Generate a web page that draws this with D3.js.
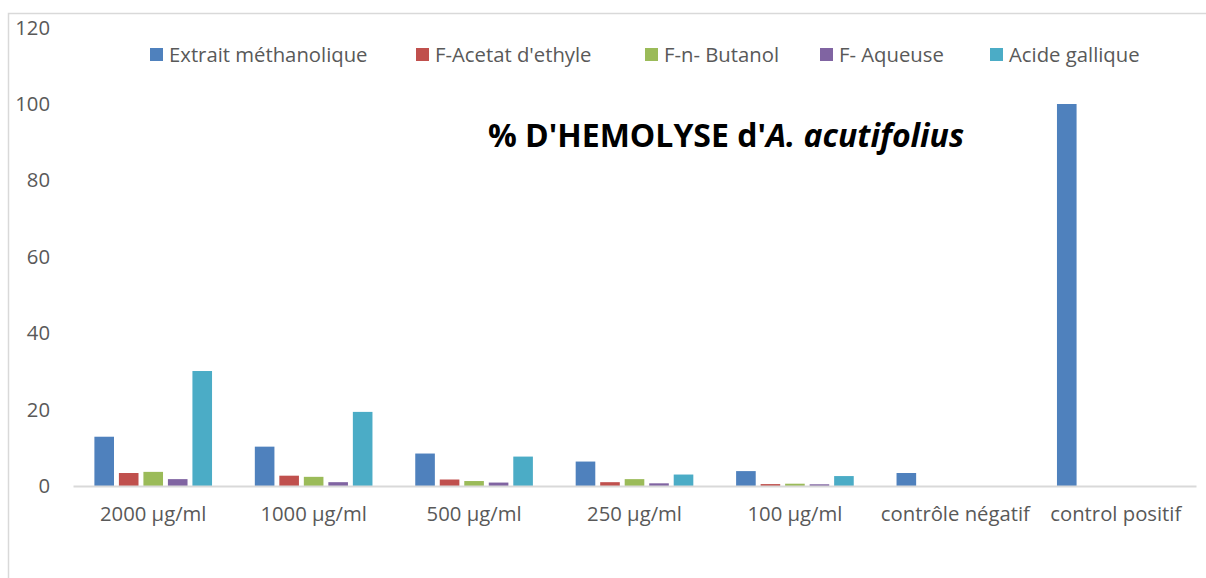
<!DOCTYPE html>
<html>
<head>
<meta charset="utf-8">
<script src="https://cdn.jsdelivr.net/npm/d3@7"></script>
<style>
  body { margin: 0; background: #fff; }
  svg { display: block; font-family: "Open Sans", Lato, sans-serif; }
</style>
</head>
<body>
<script>
// données
const categories = ["2000 μg/ml", "1000 μg/ml", "500 μg/ml", "250 μg/ml", "100 μg/ml", "contrôle négatif", "control positif"];
const seriesNames = ["Extrait méthanolique", "F-Acetat d'ethyle", "F-n- Butanol", "F- Aqueuse", "Acide gallique"];
const extraitMethanolique = [12.9, 10.3, 8.5, 6.4, 3.9, 3.4, 100];
const acetatEthyle = [3.4, 2.7, 1.7, 1.0, 0.5, null, null];
const nButanol = [3.7, 2.4, 1.3, 1.8, 0.6, null, null];
const aqueuse = [1.8, 1.0, 0.9, 0.7, 0.45, null, null];
const acideGallique = [30.1, 19.4, 7.7, 3.0, 2.6, null, null];
const yTicks = [0, 20, 40, 60, 80, 100, 120];
const colors = ["#4F81BD", "#C0504D", "#9BBB59", "#8064A2", "#4BACC6"];

const seriesValues = [extraitMethanolique, acetatEthyle, nButanol, aqueuse, acideGallique];

const width = 1206;
const height = 578;
const labelFont = "20.3px";

const svg = d3.select("body")
    .append("svg")
    .attr("width", width)
    .attr("height", height);

// cadre
svg.append("rect")
    .attr("x", 8.5)
    .attr("y", 13.5)
    .attr("width", 1230)
    .attr("height", 600)
    .attr("fill", "none")
    .attr("stroke", "#d9d9d9")
    .attr("stroke-width", 1.5);

// échelles
const x = d3.scaleBand().domain(categories).range([73, 1196]).padding(0);
const xInner = d3.scaleBand().domain(seriesNames).range([0, x.bandwidth()])
    .paddingInner(0.2).paddingOuter(0.873);
const y = d3.scaleLinear().domain([0, 120]).range([486, 27.6]);

// axe y
const yAxis = svg.append("g")
    .attr("transform", "translate(52,0)")
    .call(d3.axisLeft(y).tickValues(yTicks).tickSize(0).tickPadding(2));
yAxis.select(".domain").remove();
yAxis.selectAll("text")
    .style("font-size", labelFont)
    .style("fill", "#595959")
    .style("font-family", "'Open Sans', sans-serif");

// barres
const data = [];
categories.forEach((c, i) => {
    seriesNames.forEach((s, j) => {
        const v = seriesValues[j][i];
        if (v !== null) data.push({cat: c, serie: s, value: v, idx: j});
    });
});

svg.append("g")
    .selectAll("rect")
    .data(data)
    .enter()
    .append("rect")
    .attr("x", d => x(d.cat) + xInner(d.serie))
    .attr("y", d => y(d.value))
    .attr("width", xInner.bandwidth())
    .attr("height", d => y(0) - y(d.value))
    .attr("fill", d => colors[d.idx]);

// axe x
const xAxis = svg.append("g")
    .attr("transform", "translate(0," + y(0) + ")")
    .call(d3.axisBottom(x).tickSize(0).tickPadding(21));
xAxis.select(".domain")
    .attr("stroke", "#d9d9d9")
    .attr("stroke-width", 2);
xAxis.selectAll("text")
    .style("font-size", labelFont)
    .style("fill", "#595959")
    .style("font-family", "'Open Sans', sans-serif");

// légende
const legendX = [150, 416, 645, 820, 990];
const legend = svg.append("g")
    .selectAll("g")
    .data(seriesNames)
    .enter()
    .append("g")
    .attr("transform", (d, i) => "translate(" + legendX[i] + ",48)");

legend.append("rect")
    .attr("width", 13)
    .attr("height", 13)
    .attr("fill", (d, i) => colors[i]);

legend.append("text")
    .attr("x", 19)
    .attr("y", 13.5)
    .style("font-size", labelFont)
    .style("fill", "#595959")
    .text(d => d);

// titre
const title = svg.append("text")
    .attr("x", 726)
    .attr("y", 147)
    .attr("text-anchor", "middle")
    .style("font-size", "32px")
    .style("font-weight", "bold")
    .style("fill", "#000");
title.append("tspan").text("% D'HEMOLYSE d'");
title.append("tspan").style("font-style", "italic").text("A. acutifolius");
</script>
</body>
</html>
